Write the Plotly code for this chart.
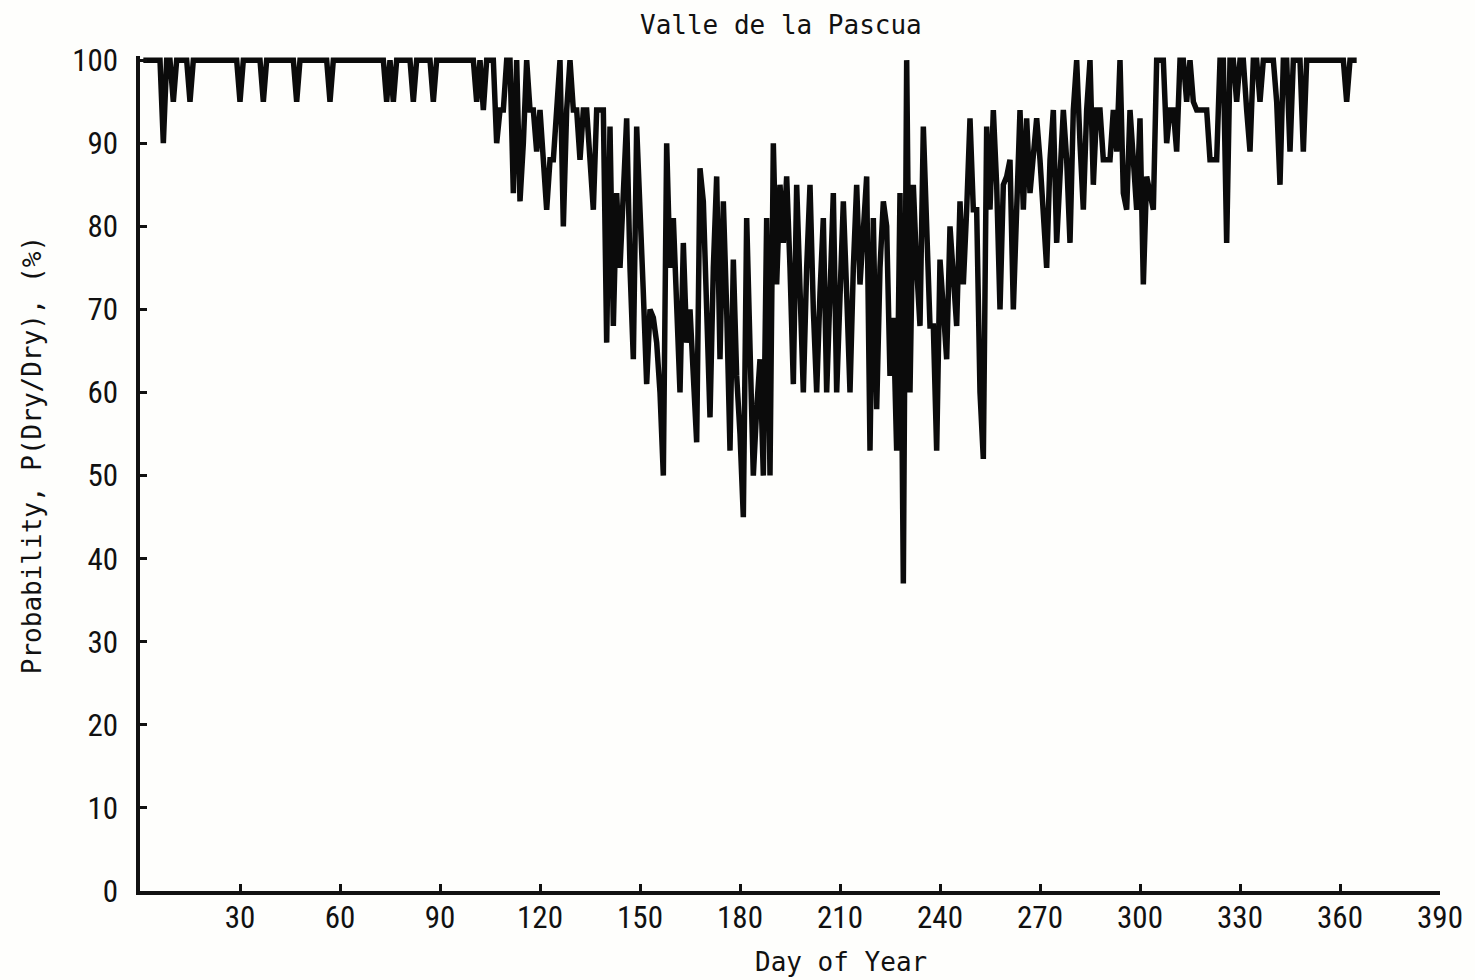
import plotly.graph_objects as go

# Daily probability that a dry day follows a dry day, Valle de la Pascua
days = list(range(1, 366))

p_dry_dry = [
    100, 100, 100, 100, 100, 100, 90, 100, 100, 95, 100, 100, 100, 100, 95, 100, 100, 100, 100, 100,
    100, 100, 100, 100, 100, 100, 100, 100, 100, 95, 100, 100, 100, 100, 100, 100, 95, 100, 100, 100,
    100, 100, 100, 100, 100, 100, 95, 100, 100, 100, 100, 100, 100, 100, 100, 100, 95, 100, 100, 100,
    100, 100, 100, 100, 100, 100, 100, 100, 100, 100, 100, 100, 100, 95, 100, 95, 100, 100, 100, 100,
    100, 95, 100, 100, 100, 100, 100, 95, 100, 100, 100, 100, 100, 100, 100, 100, 100, 100, 100, 100,
    95, 100, 94, 100, 100, 100, 90, 94, 94, 100, 100, 84, 100, 83, 90, 100, 94, 94, 89, 94,
    88, 82, 88, 88, 94, 100, 80, 94, 100, 94, 94, 88, 94, 94, 88, 82, 94, 94, 94, 66,
    92, 68, 84, 75, 84, 93, 75, 64, 92, 80, 72, 61, 70, 69, 66, 60, 50, 90, 75, 81,
    70, 60, 78, 66, 70, 62, 54, 87, 83, 70, 57, 75, 86, 64, 83, 70, 53, 76, 62, 55,
    45, 81, 62, 50, 58, 64, 50, 81, 50, 90, 73, 85, 78, 86, 75, 61, 85, 72, 60, 75,
    85, 70, 60, 72, 81, 60, 72, 84, 60, 70, 83, 72, 60, 75, 85, 73, 80, 86, 53, 81,
    58, 75, 83, 80, 62, 69, 53, 84, 37, 100, 60, 85, 75, 68, 92, 78, 68, 68, 53, 76,
    70, 64, 80, 75, 68, 83, 73, 82, 93, 82, 82, 60, 52, 92, 82, 94, 85, 70, 85, 86,
    88, 70, 85, 94, 82, 93, 84, 88, 93, 88, 82, 75, 88, 94, 78, 88, 94, 88, 78, 94,
    100, 90, 82, 94, 100, 85, 94, 94, 88, 88, 88, 94, 89, 100, 84, 82, 94, 88, 82, 93,
    73, 86, 84, 82, 100, 100, 100, 90, 94, 94, 89, 100, 100, 95, 100, 95, 94, 94, 94, 94,
    88, 88, 88, 100, 100, 78, 100, 100, 95, 100, 100, 94, 89, 100, 100, 95, 100, 100, 100, 100,
    95, 85, 100, 100, 89, 100, 100, 100, 89, 100, 100, 100, 100, 100, 100, 100, 100, 100, 100, 100,
    100, 95, 100, 100, 100,
]

x_ticks = [30, 60, 90, 120, 150, 180, 210, 240, 270, 300, 330, 360, 390]
y_ticks = [0, 10, 20, 30, 40, 50, 60, 70, 80, 90, 100]

mono = "DejaVu Sans Mono"
narrow = "Liberation Sans Narrow, Roboto Condensed, Liberation Sans, sans-serif"
ink = "#111111"

fig = go.Figure(
    go.Scatter(
        x=days,
        y=p_dry_dry,
        mode="lines",
        line=dict(color="#0b0b0b", width=5.5),
        showlegend=False,
    )
)

axis_common = dict(
    showgrid=False,
    zeroline=False,
    showline=True,
    linecolor=ink,
    linewidth=3.5,
    ticks="inside",
    ticklen=7,
    tickwidth=2.5,
    tickcolor=ink,
    tickfont=dict(family=narrow, size=31, color=ink),
)

fig.update_layout(
    width=1475,
    height=980,
    margin=dict(l=140, r=35, t=56, b=89),
    paper_bgcolor="#fefefc",
    plot_bgcolor="#fefefc",
    xaxis=dict(range=[0, 390], tickvals=x_ticks, ticklabelstandoff=-4, **axis_common),
    yaxis=dict(range=[0, 100.5], tickvals=y_ticks, ticklabelstandoff=12, **axis_common),
    annotations=[
        dict(text="Valle de la Pascua", xref="paper", yref="paper", x=0.493, y=1.037,
             xanchor="center", yanchor="middle", showarrow=False,
             font=dict(family=mono, size=26, color=ink)),
        dict(text="Day of Year", xref="paper", yref="paper", x=0.539, y=-0.085,
             xanchor="center", yanchor="middle", showarrow=False,
             font=dict(family=mono, size=26, color=ink)),
        dict(text="Probability, P(Dry/Dry), (%)", xref="paper", yref="paper", x=-0.083, y=0.522,
             xanchor="center", yanchor="middle", showarrow=False, textangle=-90,
             font=dict(family=mono, size=26, color=ink)),
    ],
)

fig.write_html("out.html")
